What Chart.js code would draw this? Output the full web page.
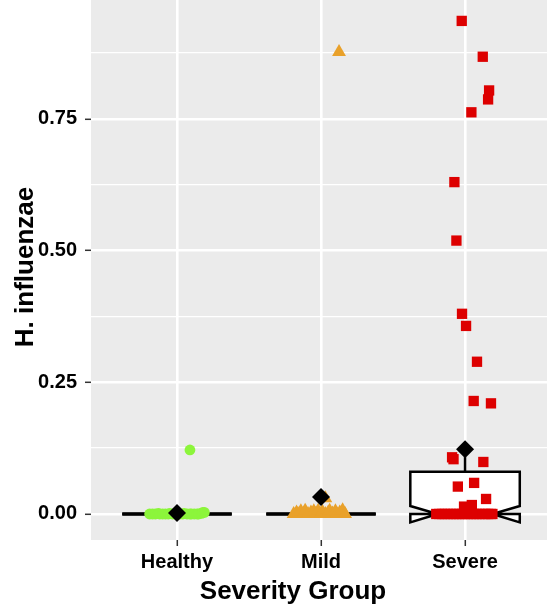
<!DOCTYPE html>
<html>
<head>
<meta charset="utf-8">
<script src="https://cdn.jsdelivr.net/npm/chart.js@4/dist/chart.umd.min.js"></script>
<style>
  html, body { margin: 0; padding: 0; background: #fff; }
  #wrap { width: 547px; height: 606px; }
</style>
</head>
<body>
<div id="wrap"><canvas id="grafico" width="547" height="606"></canvas></div>
<script>
// ── Datos ────────────────────────────────────────────────────────────
const categorias = ["Healthy", "Mild", "Severe"];
const yTicks     = [0, 0.125, 0.25, 0.375, 0.5, 0.625, 0.75, 0.875];
const yEtiquetas = { 0: "0.00", 0.25: "0.25", 0.5: "0.50", 0.75: "0.75" };

// puntos con jitter: desplazamiento x respecto al centro del grupo, valor
const healthyX = [-0.19, -0.17, -0.15, -0.13, -0.12, -0.10, -0.08, -0.06, -0.05, -0.03, -0.01, 0.00,
                  0.02, 0.04, 0.05, 0.07, 0.09, 0.10, 0.12, 0.14, 0.15, 0.17, 0.18, 0.19, 0.09];
const healthyY = [0, 0, 0, 0.001, 0, 0, 0, 0, 0.001, 0, 0, 0,
                  0, 0, 0.001, 0, 0, 0, 0, 0, 0, 0.001, 0.003, 0.003, 0.1215];

const mildX = [-0.19, -0.17, -0.16, -0.14, -0.12, -0.11, -0.09, -0.07, -0.05, -0.04, -0.02, 0.00,
               0.01, 0.03, 0.05, 0.06, 0.08, 0.10, 0.11, 0.13, 0.15, 0.167, 0.03, 0.125];
const mildY = [0, 0.003, 0, 0.005, 0.001, 0.006, 0, 0.003, 0.005, 0, 0.006, 0.001,
               0.004, 0, 0.003, 0.006, 0.001, 0.005, 0, 0.003, 0.007, 0, 0.030, 0.877];

const severeX = [-0.20, -0.18, -0.16, -0.14, -0.12, -0.10, -0.08, -0.06, -0.04, -0.02, 0.00, 0.02,
                 0.04, 0.06, 0.08, 0.10, 0.12, 0.14, 0.16, 0.18, 0.19,
                 -0.023, 0.123, 0.167, 0.160, 0.044, -0.074, -0.060, -0.021, 0.007, 0.083,
                 0.060, 0.180, -0.090, -0.080, 0.127, -0.050, 0.063, 0.146, 0.047, -0.007];
const severeY = [0, 0, 0, 0, 0, 0, 0, 0, 0, 0, 0, 0,
                 0, 0, 0, 0, 0, 0, 0, 0, 0,
                 0.936, 0.868, 0.804, 0.787, 0.7625, 0.630, 0.519, 0.380, 0.357, 0.289,
                 0.2145, 0.210, 0.1076, 0.104, 0.0987, 0.052, 0.059, 0.0285, 0.017, 0.014];

const medias = [0.002, 0.032, 0.123];

// estadísticos de las cajas
const cajaQ1      = [0, 0, 0];
const cajaMediana = [0, 0, 0];
const cajaQ3      = [0, 0, 0.080];
const bigoteBajo  = [0, 0, 0];
const bigoteAlto  = [0, 0, 0.108];
const muescaBaja  = [null, null, -0.016];
const muescaAlta  = [null, null, 0.015];

// ── Estilo ────────────────────────────────────────────────────────────
const C_VERDE   = "#8CF53B";
const C_NARANJA = "#E9A12A";
const C_ROJO    = "#DD0000";
const C_PANEL   = "#EBEBEB";
const FUENTE    = "'Liberation Sans', Arial, Helvetica, sans-serif";
const ANCHO_CAJA = 0.76;

const puntos = (xs, ys, g) => xs.map((dx, i) => ({ x: g + dx, y: ys[i] }));

// fondo del panel
const fondoPanel = {
  id: "fondoPanel",
  beforeDraw(chart) {
    const { ctx, chartArea: a } = chart;
    ctx.save();
    ctx.fillStyle = C_PANEL;
    ctx.fillRect(a.left, a.top, a.right - a.left, a.bottom - a.top);
    ctx.restore();
  },
};

// cajas (debajo de los puntos)
const cajas = {
  id: "cajas",
  beforeDatasetsDraw(chart) {
    const { ctx } = chart;
    const sx = chart.scales.x, sy = chart.scales.y;
    ctx.save();
    ctx.strokeStyle = "#000";
    ctx.lineJoin = "miter";
    categorias.forEach((_, i) => {
      const g = i + 1;
      const cx = sx.getPixelForValue(g);
      const izq = sx.getPixelForValue(g - ANCHO_CAJA / 2);
      const der = sx.getPixelForValue(g + ANCHO_CAJA / 2);
      const q1 = sy.getPixelForValue(cajaQ1[i]);
      const q3 = sy.getPixelForValue(cajaQ3[i]);
      const med = sy.getPixelForValue(cajaMediana[i]);

      // bigotes
      ctx.lineWidth = 2.5;
      ctx.beginPath();
      ctx.moveTo(cx, q3); ctx.lineTo(cx, sy.getPixelForValue(bigoteAlto[i]));
      ctx.moveTo(cx, q1); ctx.lineTo(cx, sy.getPixelForValue(bigoteBajo[i]));
      ctx.stroke();

      let medIzq = izq, medDer = der;
      ctx.beginPath();
      if (muescaBaja[i] != null) {
        const nb = sy.getPixelForValue(muescaBaja[i]);
        const na = sy.getPixelForValue(muescaAlta[i]);
        const sangria = (der - izq) / 4;
        medIzq = izq + sangria; medDer = der - sangria;
        ctx.moveTo(izq, q3);
        ctx.lineTo(izq, na);
        ctx.lineTo(medIzq, med);
        ctx.lineTo(izq, nb);
        ctx.lineTo(izq, q1);
        ctx.lineTo(der, q1);
        ctx.lineTo(der, nb);
        ctx.lineTo(medDer, med);
        ctx.lineTo(der, na);
        ctx.lineTo(der, q3);
        ctx.closePath();
      } else {
        ctx.rect(izq, q3, der - izq, q1 - q3);
      }
      ctx.fillStyle = "#fff";
      ctx.fill();
      ctx.stroke();

      // mediana
      ctx.lineWidth = 3.5;
      ctx.beginPath();
      ctx.moveTo(medIzq, med); ctx.lineTo(medDer, med);
      ctx.stroke();
    });
    ctx.restore();
  },
};

// títulos de los ejes
const titulos = {
  id: "titulos",
  afterDraw(chart) {
    const { ctx } = chart;
    ctx.save();
    ctx.fillStyle = "#000";
    ctx.font = `bold 26px ${FUENTE}`;
    ctx.textAlign = "center";
    ctx.textBaseline = "alphabetic";
    ctx.fillText("Severity Group", 293, 599);
    ctx.translate(33, 267);
    ctx.rotate(-Math.PI / 2);
    ctx.fillText("H. influenzae", 0, 0);
    ctx.restore();
  },
};

const esMayor = v => yEtiquetas[v] !== undefined;

new Chart(document.getElementById("grafico"), {
  type: "scatter",
  data: {
    datasets: [
      { label: "Media", data: medias.map((m, i) => ({ x: i + 1, y: m })),
        pointStyle: "rectRot", pointRadius: 9, backgroundColor: "#000", borderWidth: 0 },
      { label: "Severe", data: puntos(severeX, severeY, 3),
        pointStyle: "rect", pointRadius: 7.3, backgroundColor: C_ROJO, borderWidth: 0 },
      { label: "Mild", data: puntos(mildX, mildY, 2),
        pointStyle: "triangle", pointRadius: 8, backgroundColor: C_NARANJA, borderWidth: 0 },
      { label: "Healthy", data: puntos(healthyX, healthyY, 1),
        pointStyle: "circle", pointRadius: 5.4, backgroundColor: C_VERDE, borderWidth: 0 },
    ],
  },
  options: {
    responsive: false, animation: false, devicePixelRatio: 1,
    layout: { padding: 0, autoPadding: false },
    plugins: { legend: { display: false }, tooltip: { enabled: false } },
    scales: {
      x: {
        type: "linear", min: 0.403, max: 3.569,
        afterBuildTicks: s => { s.ticks = categorias.map((_, i) => ({ value: i + 1 })); },
        afterFit: s => { s.height = 66; s.paddingLeft = 0; s.paddingRight = 0; },
        border: { display: false },
        grid: { color: "#fff", lineWidth: 2.6, tickColor: "#333", tickWidth: 1.5, tickLength: 6 },
        ticks: { autoSkip: false, maxRotation: 0, padding: 4, color: "#000",
          font: { family: FUENTE, size: 20, weight: "bold" },
          callback: v => categorias[v - 1] },
      },
      y: {
        type: "linear", min: -0.0494, max: 0.9757,
        afterBuildTicks: s => { s.ticks = yTicks.map(v => ({ value: v })); },
        afterFit: s => { s.width = 91; s.paddingTop = 0; s.paddingBottom = 0; },
        border: { display: false },
        grid: {
          color: "#fff",
          lineWidth: c => (c.tick && esMayor(c.tick.value) ? 2.6 : 1.3),
          tickColor: c => (c.tick && esMayor(c.tick.value) ? "#333" : "rgba(0,0,0,0)"),
          tickWidth: 1.5, tickLength: 6,
        },
        ticks: { autoSkip: false, padding: 8, color: "#000",
          font: { family: FUENTE, size: 20, weight: "bold" },
          callback: v => yEtiquetas[v] ?? "" },
      },
    },
  },
  plugins: [fondoPanel, cajas, titulos],
});
</script>
</body>
</html>
